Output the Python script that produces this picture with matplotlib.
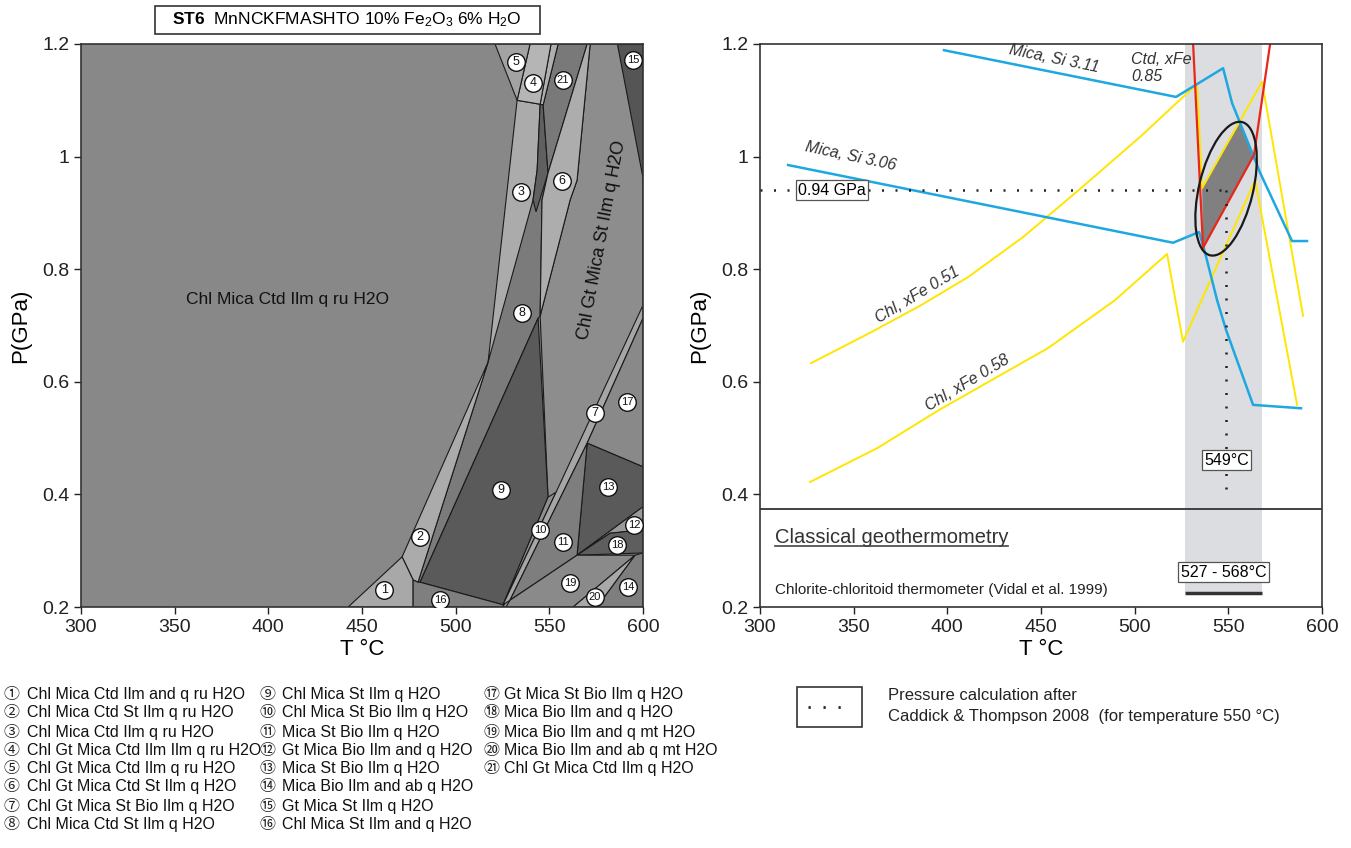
import matplotlib
matplotlib.use("Agg")
import matplotlib.pyplot as plt
from matplotlib.patches import Polygon, Ellipse, Rectangle
from matplotlib.lines import Line2D
import matplotlib.transforms as mtransforms

plt.rcParams['font.family'] = ['Liberation Sans', 'DejaVu Sans']
plt.rcParams['mathtext.fontset'] = 'custom'
plt.rcParams['mathtext.rm'] = 'Liberation Sans'
plt.rcParams['mathtext.it'] = 'Liberation Sans:italic'
plt.rcParams['mathtext.bf'] = 'Liberation Sans:bold'

# ---------------- axes ----------------
T_TICKS = [300, 350, 400, 450, 500, 550, 600]
P_TICKS = [0.2, 0.4, 0.6, 0.8, 1.0, 1.2]
P_TICKLABELS = ["0.2", "0.4", "0.6", "0.8", "1", "1.2"]

# ---------------- pseudosection fields (T degC, P GPa) ----------------
FIELD_BIG = [(571.8, 1.2), (600, 1.2), (600, 0.2), (525.3, 0.2), (549.3, 0.395),
             (545.1, 0.717), (561.1, 0.923), (564.8, 0.958)]
FIELD_15 = [(586.2, 1.2), (600, 1.2), (600, 0.958)]
FIELD_8 = [(545.1, 1.093), (549.3, 0.971), (546.1, 0.923), (545.1, 0.717), (544.0, 0.713),
           (481.0, 0.244), (479.9, 0.244), (517.3, 0.635)]
FIELD_3 = [(532.8, 1.100), (545.1, 1.093), (543.5, 0.976), (541.3, 0.923), (517.3, 0.635)]
FIELD_SLIVER = [(545.1, 1.093), (546.7, 1.092), (549.3, 0.971), (542.9, 0.902), (541.3, 0.923), (543.5, 0.976)]
FIELD_21 = [(554.7, 1.2), (570.2, 1.2), (549.3, 0.971), (546.7, 1.092)]
FIELD_STRIP = [(550.9, 1.2), (554.7, 1.2), (546.7, 1.092), (545.1, 1.093)]
FIELD_4 = [(539.7, 1.2), (550.9, 1.2), (545.1, 1.093), (532.8, 1.100)]
FIELD_5 = [(521.0, 1.2), (539.7, 1.2), (532.8, 1.100)]
FIELD_6 = [(570.2, 1.2), (571.8, 1.2), (564.8, 0.958), (561.1, 0.923), (545.1, 0.717),
           (546.1, 0.923), (549.3, 0.971)]
FIELD_9 = [(544.0, 0.713), (549.3, 0.395), (525.3, 0.204), (481.0, 0.244)]
FIELD_2 = [(471.4, 0.289), (517.3, 0.635), (479.9, 0.244), (477.3, 0.248)]
FIELD_1 = [(442.6, 0.2), (471.4, 0.289), (477.3, 0.248), (477.3, 0.2)]
FIELD_16 = [(477.3, 0.248), (479.9, 0.244), (481.0, 0.244), (525.3, 0.204), (525.3, 0.2), (477.3, 0.2)]
FIELD_10 = [(549.3, 0.395), (553.6, 0.404), (525.3, 0.204)]
FIELD_7 = [(600, 0.736), (553.6, 0.404), (525.3, 0.204), (529.0, 0.212), (570.2, 0.491), (600, 0.713)]
FIELD_17 = [(600, 0.713), (600, 0.449), (570.2, 0.491)]
FIELD_13 = [(570.2, 0.491), (600, 0.449), (600, 0.378), (564.8, 0.292)]
FIELD_11 = [(570.2, 0.491), (564.8, 0.292), (529.0, 0.212)]
FIELD_12 = [(564.8, 0.292), (600, 0.378), (600, 0.337), (582.4, 0.331)]
FIELD_18 = [(564.8, 0.292), (582.4, 0.331), (600, 0.337), (600, 0.296)]
FIELD_19 = [(529.0, 0.212), (564.8, 0.292), (595.8, 0.292), (562.7, 0.2), (526.9, 0.2)]
FIELD_20 = [(595.8, 0.292), (575.5, 0.2), (562.7, 0.2)]
FIELD_14 = [(600, 0.296), (595.8, 0.292), (575.5, 0.2), (600, 0.2)]

# circled numbers on the pseudosection
LABEL_NUMS = list(range(1, 22))
LABEL_T = [461.8, 481.0, 534.9, 541.3, 532.2, 556.8, 574.4, 535.5, 524.2, 545.1, 557.3,
           595.2, 581.4, 592.1, 594.7, 491.7, 591.5, 586.2, 561.1, 574.4, 557.3]
LABEL_P = [0.230, 0.324, 0.937, 1.131, 1.168, 0.957, 0.545, 0.722, 0.408, 0.337, 0.315,
           0.346, 0.413, 0.236, 1.172, 0.212, 0.564, 0.310, 0.243, 0.218, 1.136]

FIELD_NAMES = [
    "Chl Mica Ctd Ilm and q ru H2O", "Chl Mica Ctd St Ilm q ru H2O", "Chl Mica Ctd Ilm q ru H2O",
    "Chl Gt Mica Ctd Ilm Ilm q ru H2O", "Chl Gt Mica Ctd Ilm q ru H2O", "Chl Gt Mica Ctd St Ilm q H2O",
    "Chl Gt Mica St Bio Ilm q H2O", "Chl Mica Ctd St Ilm q H2O", "Chl Mica St Ilm q H2O",
    "Chl Mica St Bio Ilm q H2O", "Mica St Bio Ilm q H2O", "Gt Mica Bio Ilm and q H2O",
    "Mica St Bio Ilm q H2O", "Mica Bio Ilm and ab q H2O", "Gt Mica St Ilm q H2O",
    "Chl Mica St Ilm and q H2O", "Gt Mica St Bio Ilm q H2O", "Mica Bio Ilm and q H2O",
    "Mica Bio Ilm and q mt H2O", "Mica Bio Ilm and ab q mt H2O", "Chl Gt Mica Ctd Ilm q H2O"]
CIRCLED = ["\u2460", "\u2461", "\u2462", "\u2463", "\u2464", "\u2465", "\u2466", "\u2467",
           "\u2468", "\u2469", "\u246a", "\u246b", "\u246c", "\u246d", "\u246e", "\u246f",
           "\u2470", "\u2471", "\u2472", "\u2473", "\u3251"]

# ---------------- thermobarometry panel ----------------
MICA311_T = [398.2, 522.1, 547.2, 552.0, 567.0, 584.0, 592.0]
MICA311_P = [1.189, 1.106, 1.157, 1.095, 0.971, 0.850, 0.850]
MICA306_T = [315.0, 520.5, 534.4, 537.6, 544.0, 548.8, 563.2, 588.8]
MICA306_P = [0.985, 0.847, 0.866, 0.829, 0.745, 0.692, 0.559, 0.553]
CHL051_T = [327.2, 358.7, 385.4, 411.1, 440.4, 470.3, 502.9, 533.3, 536.0, 568.0, 589.9]
CHL051_P = [0.633, 0.687, 0.735, 0.786, 0.857, 0.941, 1.035, 1.129, 0.944, 1.133, 0.717]
CHL058_T = [326.7, 362.5, 395.6, 453.8, 489.5, 517.3, 525.8, 564.3, 586.7]
CHL058_P = [0.422, 0.482, 0.550, 0.660, 0.745, 0.827, 0.671, 0.958, 0.559]
CTD085_T = [531.2, 536.5, 563.7, 572.3]
CTD085_P = [1.2, 0.838, 1.003, 1.2]
OVERLAP_T = [536.0, 556.3, 563.7, 536.5]
OVERLAP_P = [0.946, 1.061, 1.003, 0.838]
ELLIPSE_T, ELLIPSE_P = 548.8, 0.943
P_CALC = 0.94
T_CALC = 549
T_RANGE = (527, 568)
P_DIVIDER = 0.374
P_RANGE_BAR = 0.225
P_DOT_END = 0.393

# ---------------- figure ----------------
fig = plt.figure(figsize=(13.51, 8.48), dpi=100)
W, H = 1351.0, 848.0
axL = fig.add_axes([81 / W, 1 - 607 / H, 562 / W, 563 / H])
axR = fig.add_axes([760 / W, 1 - 607 / H, 562 / W, 563 / H])

for ax in (axL, axR):
    ax.set_xlim(300, 600)
    ax.set_ylim(0.2, 1.2)
    ax.set_xticks(T_TICKS)
    ax.set_yticks(P_TICKS)
    ax.set_yticklabels(P_TICKLABELS)
    ax.tick_params(direction='out', length=5, width=1, labelsize=14, colors='#222222')
    for s in ax.spines.values():
        s.set_color('#333333')
        s.set_linewidth(1.2)
    ax.set_xlabel("T °C", fontsize=16, labelpad=2)
    ax.set_ylabel("P(GPa)", fontsize=16, labelpad=8)

# ---- left: pseudosection ----
axL.set_facecolor('#888888')
LIGHT = '#ababab'
MED = '#7b7b7b'
DARK = '#5a5a5a'
layers = [
    (FIELD_BIG, '#8d8d8d'), (FIELD_15, '#555555'), (FIELD_8, MED), (FIELD_3, LIGHT),
    (FIELD_SLIVER, '#606060'), (FIELD_21, '#797979'), (FIELD_STRIP, '#b0b0b0'),
    (FIELD_4, '#b5b5b5'), (FIELD_5, '#a3a3a3'), (FIELD_6, '#adadad'), (FIELD_9, DARK),
    (FIELD_2, LIGHT), (FIELD_1, '#a8a8a8'), (FIELD_16, '#7f7f7f'), (FIELD_10, '#8f8f8f'),
    (FIELD_7, '#a6a6a6'), (FIELD_17, '#898989'), (FIELD_13, DARK), (FIELD_11, '#7e7e7e'),
    (FIELD_12, '#9a9a9a'), (FIELD_18, '#5e5e5e'), (FIELD_19, '#8a8a8a'), (FIELD_20, '#a8a8a8'),
    (FIELD_14, '#7e7e7e'),
]
for verts, col in layers:
    axL.add_patch(Polygon(verts, closed=True, fc=col, ec='#1a1a1a', lw=0.8, zorder=1))

axL.scatter(LABEL_T, LABEL_P, s=160, c='white', edgecolors='#111111', linewidths=1.0, zorder=5)
for n, t, p in zip(LABEL_NUMS, LABEL_T, LABEL_P):
    axL.text(t, p, str(n), ha='center', va='center', fontsize=9 if n < 10 else 8,
             color='#111111', zorder=6)

axL.text(410, 0.747, "Chl Mica Ctd Ilm q ru H2O", ha='center', va='center', fontsize=12.5,
         color='#111111', zorder=6)
axL.text(578.2, 0.852, "Chl Gt Mica St Ilm q H2O", ha='center', va='center', fontsize=13,
         rotation=79.5, color='#111111', zorder=6)

# title box
fig.add_artist(Rectangle((155 / W, 1 - 34 / H), 385 / W, 28 / H, transform=fig.transFigure,
                         fc='white', ec='#333333', lw=1.2))
fig.text(347 / W, 1 - 20 / H, r"$\bf{ST6}$  MnNCKFMASHTO 10% Fe$_2$O$_3$ 6% H$_2$O",
         ha='center', va='center', fontsize=12.5)

# ---- right: thermobarometry ----
axR.set_facecolor('white')
axR.fill_between(list(T_RANGE), P_RANGE_BAR, 1.2, color='#dcdde0', lw=0, zorder=0.5)
axR.axhline(P_DIVIDER, color='#333333', lw=1.3, zorder=1)
axR.add_patch(Polygon(list(zip(OVERLAP_T, OVERLAP_P)), closed=True, fc='#808080', ec='none', zorder=1.5))
axR.plot(CHL051_T, CHL051_P, color='#ffe600', lw=1.4, zorder=2)
axR.plot(CHL058_T, CHL058_P, color='#ffe600', lw=1.4, zorder=2)
axR.plot(MICA311_T, MICA311_P, color='#1ea7e1', lw=1.8, zorder=2.2)
axR.plot(MICA306_T, MICA306_P, color='#1ea7e1', lw=1.8, zorder=2.2)
axR.plot(CTD085_T, CTD085_P, color='#e8261c', lw=1.6, zorder=2.4)

ell_trans = fig.dpi_scale_trans + mtransforms.ScaledTranslation(ELLIPSE_T, ELLIPSE_P, axR.transData)
axR.add_patch(Ellipse((0, 0), width=1.37, height=0.54, angle=76.5, transform=ell_trans,
                      fill=False, ec='#1a1a1a', lw=1.6, zorder=3))

dots = (0, (0.8, 4.6))
axR.plot([300, T_CALC], [P_CALC, P_CALC], color='#222222', lw=1.8, linestyle=dots, zorder=3)
axR.plot([T_CALC, T_CALC], [P_CALC, P_DOT_END], color='#222222', lw=1.8, linestyle=dots, zorder=3)
axR.plot(list(T_RANGE), [P_RANGE_BAR, P_RANGE_BAR], color='#333333', lw=2.5, zorder=3,
         solid_capstyle='butt')

box = dict(boxstyle='square,pad=0.15', fc='white', ec='#555555', lw=0.9)
axR.text(338.4, P_CALC, "0.94 GPa", ha='center', va='center', fontsize=11.5, bbox=box, zorder=4)
axR.text(T_CALC, 0.461, "549°C", ha='center', va='center', fontsize=11.5, bbox=box, zorder=4)
axR.text(sum(T_RANGE) / 2, 0.262, "527 - 568°C", ha='center', va='center', fontsize=11.5,
         bbox=box, zorder=4)

lab_kw = dict(style='italic', fontsize=11.5, color='#333333', zorder=4)
axR.text(457.0, 1.174, "Mica, Si 3.11", ha='center', va='center', rotation=-11.5, **lab_kw)
axR.text(498.1, 1.158, "Ctd, xFe\n0.85", ha='left', va='center', linespacing=1.15, **lab_kw)
axR.text(348.6, 1.000, "Mica, Si 3.06", ha='center', va='center', rotation=-12, **lab_kw)
axR.text(383.8, 0.754, "Chl, xFe 0.51", ha='center', va='center', rotation=31, **lab_kw)
axR.text(410.5, 0.598, "Chl, xFe 0.58", ha='center', va='center', rotation=31, **lab_kw)

cg = axR.text(308, 0.323, "Classical geothermometry", ha='left', va='center', fontsize=14.5,
              color='#333333', zorder=4)
axR.text(308, 0.230, "Chlorite-chloritoid thermometer (Vidal et al. 1999)", ha='left',
         va='center', fontsize=11, color='#222222', zorder=4)

# underline for the heading, derived from its rendered extent
fig.canvas.draw()
bb = cg.get_window_extent().transformed(fig.transFigure.inverted())
fig.add_artist(Line2D([bb.x0, bb.x1], [bb.y0 + 0.001, bb.y0 + 0.001], transform=fig.transFigure,
                      color='#444444', lw=1.2))

# ---- bottom-left legend ----
row_y = [695, 713, 732, 750, 769, 787, 806, 824]
cols = [(12, 27, range(0, 8)), (268, 282, range(8, 16)), (491, 504, range(16, 21))]
for cx, tx, idxs in cols:
    for r, i in enumerate(idxs):
        y = 1 - row_y[r] / H
        fig.text(cx / W, y, CIRCLED[i], ha='center', va='center', fontsize=11.5,
                 family=['Noto Sans CJK JP', 'DejaVu Sans'], color='#222222')
        fig.text(tx / W, y, FIELD_NAMES[i], ha='left', va='center', fontsize=11.5, color='#111111')

# ---- bottom-right legend ----
fig.add_artist(Rectangle((797 / W, 1 - 727 / H), 65 / W, 40 / H, transform=fig.transFigure,
                         fc='white', ec='#333333', lw=1.2))
fig.add_artist(Line2D([808 / W, 852 / W], [1 - 707 / H, 1 - 707 / H], transform=fig.transFigure,
                      color='#222222', lw=2, linestyle=(0, (0.8, 4.6))))
fig.text(888 / W, 1 - 695 / H, "Pressure calculation after", ha='left', va='center', fontsize=12,
         color='#222222')
fig.text(888 / W, 1 - 717 / H, "Caddick & Thompson 2008  (for temperature 550 °C)", ha='left',
         va='center', fontsize=12, color='#222222')

fig.savefig("out.png", dpi=100)
